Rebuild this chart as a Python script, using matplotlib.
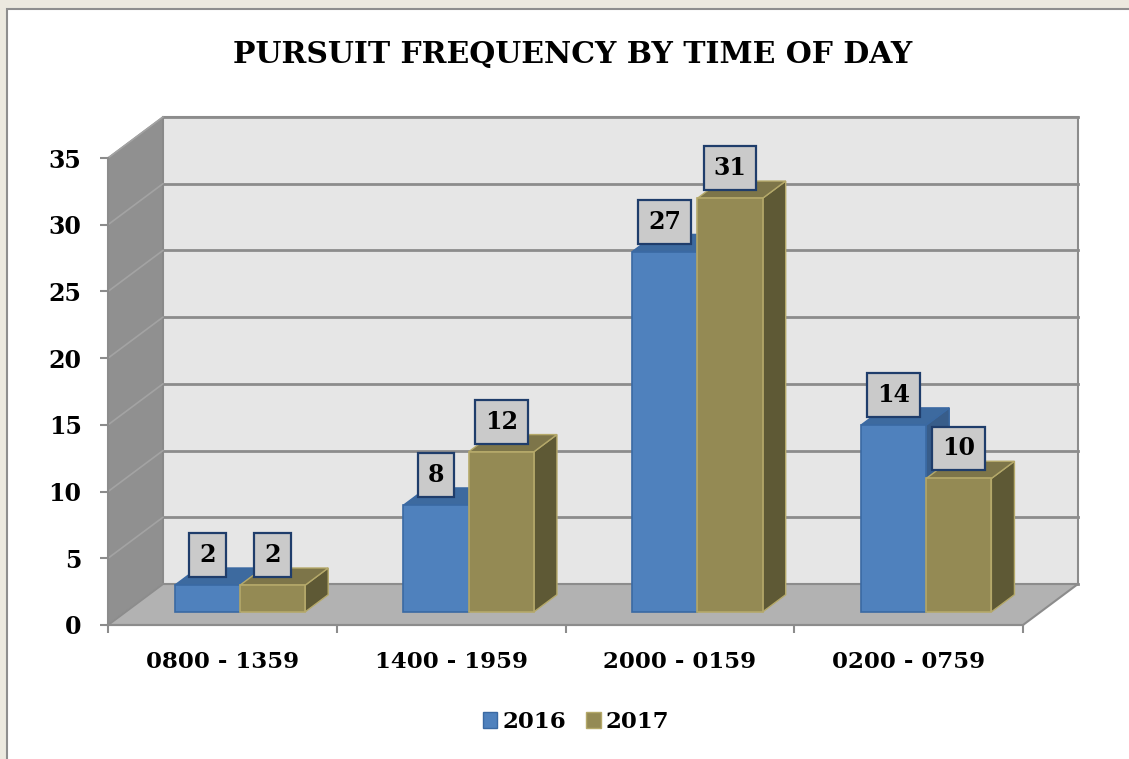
import matplotlib.pyplot as plt
from matplotlib.patches import Polygon, Rectangle, Patch

# ---------------- DATA ----------------
categories = ["0800 - 1359", "1400 - 1959", "2000 - 0159", "0200 - 0759"]
years = ["2016", "2017"]
pursuits_2016 = [2, 8, 27, 14]
pursuits_2017 = [2, 12, 31, 10]
y_ticks = [0, 5, 10, 15, 20, 25, 30, 35]

plt.rcParams['font.family'] = ['DejaVu Serif']
plt.rcParams['font.weight'] = 'bold'

W, H = 1129, 759
fig = plt.figure(figsize=(W / 100, H / 100), dpi=100)
fig.patch.set_facecolor('#ECE9DF')
fig.add_artist(Rectangle((7 / W, -0.02), 1.1, 1 - 9 / H + 0.02, transform=fig.transFigure,
                         facecolor='white', edgecolor='#8E8E8E', lw=1.5, zorder=0))

# front plane of the chart
ax = fig.add_axes([108 / W, 134 / H, 915 / W, 467 / H])
ax.set_facecolor('none')
ax.set_xlim(-0.5, 3.5)
ax.set_ylim(0, 35)

# 3d depth in data units
DX, DY = 0.24, 3.07
f0, f1 = 0.32, 0.74
grid_c = '#8C8C8C'

# back wall + grid
x_lo, x_hi = -0.5, len(categories) - 0.5
ax.add_patch(Rectangle((x_lo + DX, DY), x_hi - x_lo, y_ticks[-1], facecolor='#E6E6E6',
                       edgecolor=grid_c, lw=1.5, zorder=1, clip_on=False))
for v in y_ticks:
    ax.plot([x_lo + DX, x_hi + DX], [v + DY, v + DY], color=grid_c, lw=2, zorder=2, clip_on=False)

# side wall
ax.add_patch(Polygon([(x_lo, 0), (x_lo, y_ticks[-1]), (x_lo + DX, y_ticks[-1] + DY), (x_lo + DX, DY)],
                     closed=True, facecolor='#909090', edgecolor='#888888', lw=1, zorder=2, clip_on=False))
for v in y_ticks:
    ax.plot([x_lo, x_lo + DX], [v, v + DY], color='#A3A3A3', lw=1.2, zorder=2, clip_on=False)

# floor
ax.add_patch(Polygon([(x_lo, 0), (x_hi, 0), (x_hi + DX, DY), (x_lo + DX, DY)], closed=True,
                     facecolor='#B2B2B2', edgecolor=grid_c, lw=1.5, zorder=3, clip_on=False))


def bar3d(x0, w, h, front, top, side, edge, z):
    bx, by = f0 * DX, f0 * DY
    ex, ey = (f1 - f0) * DX, (f1 - f0) * DY
    ax.add_patch(Polygon([(x0 + bx + w, by), (x0 + bx + w + ex, by + ey),
                          (x0 + bx + w + ex, by + h + ey), (x0 + bx + w, by + h)],
                         closed=True, facecolor=side, edgecolor=edge, lw=1, zorder=z, clip_on=False))
    ax.add_patch(Polygon([(x0 + bx, by + h), (x0 + bx + w, by + h),
                          (x0 + bx + w + ex, by + h + ey), (x0 + bx + ex, by + h + ey)],
                         closed=True, facecolor=top, edgecolor=edge, lw=1, zorder=z, clip_on=False))
    ax.bar(x0 + bx, h, w, bottom=by, align='edge', color=front, edgecolor=edge, lw=1.2,
           zorder=z + 0.5, clip_on=False)
    ax.text(x0 + bx + w / 2, by + h + 2.25, str(h), ha='center', va='center', fontsize=17,
            fontweight='bold', zorder=20,
            bbox=dict(boxstyle='square,pad=0.42', facecolor='#CACACA', edgecolor='#1F3D6B', lw=1.6))


bw = 0.285
for i in range(len(categories)):
    bar3d(i - bw, bw, pursuits_2016[i], '#4F81BD', '#3D6A9F', '#385D8A', '#3A69A3', 5)
    bar3d(i, bw, pursuits_2017[i], '#948A54', '#7D7549', '#5E5935', '#B5A96A', 7)

# axes, ticks
for s in ['top', 'right']:
    ax.spines[s].set_visible(False)
for s in ['left', 'bottom']:
    ax.spines[s].set_color(grid_c)
    ax.spines[s].set_linewidth(1.5)
    ax.spines[s].set_zorder(4)
ax.set_yticks(y_ticks)
ax.tick_params(axis='y', length=6, width=1.5, color=grid_c, pad=13, labelsize=17)
ax.set_xticks(range(len(categories)))
ax.set_xticklabels(categories)
ax.set_xticks([x_lo + k for k in range(len(categories) + 1)], minor=True)
ax.tick_params(axis='x', which='major', length=0, pad=19, labelsize=16.5)
ax.tick_params(axis='x', which='minor', length=6, width=1.5, color=grid_c)

fig.text(573 / W, 1 - 55 / H, "PURSUIT FREQUENCY BY TIME OF DAY", ha='center', va='center',
         fontsize=21.5, fontweight='bold')

fig.legend(handles=[Patch(facecolor='#4F81BD', edgecolor='#3A69A3'),
                    Patch(facecolor='#948A54', edgecolor='#B5A96A')],
           labels=years, loc='center', bbox_to_anchor=(576 / W, 1 - 722 / H), ncol=2, frameon=False,
           handlelength=0.65, handleheight=0.65, handletextpad=0.2, columnspacing=0.9, fontsize=16.5)

fig.savefig("out.png", dpi=100, facecolor=fig.get_facecolor())
